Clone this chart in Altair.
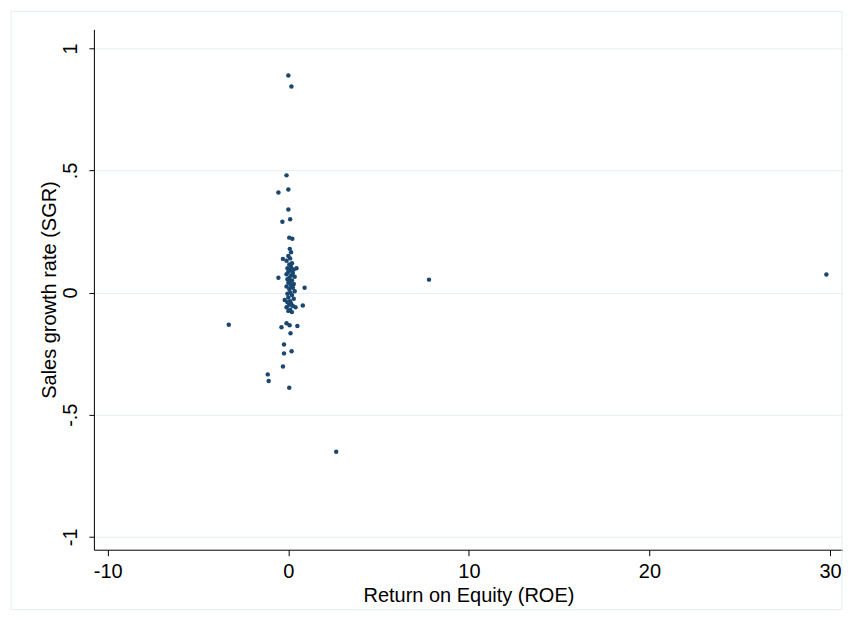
import altair as alt
import pandas as pd

roe = [0.0, 0.17, -0.1, 0.0, -0.55, 0.0, 0.1, -0.33, 0.05, 0.22, 0.08, 0.15, -0.3,
       0.45, -0.55, 0.9, 0.8, 0.4, -3.3, -0.38, -0.1, 0.07, 0.5, 0.12, -0.24, 0.18,
       -0.24, -0.3, -1.14, -1.09, 0.05, 7.79, 29.8, 2.65,
       0.0, 0.1, -0.1, 0.2, 0.05, 0.15, -0.05, 0.3, 0.1, 0.0, 0.25, -0.1, 0.15, 0.35,
       0.05, -0.05, 0.2, 0.1, 0.0, 0.3, 0.15, -0.1, 0.25, 0.05, 0.35, 0.1, -0.05, 0.2,
       0.0, 0.3, -0.2, 0.1, -0.05, 0.15, 0.05, 0.25, -0.1, 0.1, 0.0, 0.2]
sgr = [0.889, 0.844, 0.48, 0.422, 0.41, 0.34, 0.30, 0.29, 0.225, 0.22, 0.179, 0.165, 0.138,
       0.10, 0.061, 0.02, -0.053, -0.06, -0.132, -0.142, -0.126, -0.134, -0.137, -0.167, -0.213, -0.24,
       -0.249, -0.303, -0.335, -0.362, -0.39, 0.053, 0.074, -0.652,
       0.15, 0.14, 0.13, 0.12, 0.115, 0.105, 0.10, 0.095, 0.09, 0.085, 0.08, 0.075, 0.07, 0.065,
       0.06, 0.055, 0.05, 0.045, 0.04, 0.035, 0.03, 0.025, 0.02, 0.015, 0.005, 0.0, -0.005, -0.01,
       -0.02, -0.025, -0.03, -0.035, -0.04, -0.045, -0.05, -0.055, -0.06, -0.07, -0.075, -0.08]

x_ticks = [-10, 0, 10, 20, 30]
y_ticks = [-1, -0.5, 0, 0.5, 1]

df = pd.DataFrame({"ROE": roe, "SGR": sgr})

FONT = "Liberation Sans"
FS = 20

frame = alt.Chart(pd.DataFrame({"a": [0]})).mark_rect(
    fill=None, stroke="#e4ecee", strokeWidth=1
).encode(
    x=alt.value(-83), x2=alt.value(749), y=alt.value(-18), y2=alt.value(581)
)

pts = alt.Chart(df).mark_circle(size=20, opacity=1, color="#1a476f").encode(
    x=alt.X("ROE:Q", title="Return on Equity (ROE)",
            scale=alt.Scale(domain=[-10.77, 30.72], nice=False, zero=False),
            axis=alt.Axis(values=x_ticks, grid=False, labelExpr="toString(datum.value)",
                          domainColor="black", tickColor="black", tickSize=6,
                          labelFontSize=FS, titleFontSize=FS, labelFont=FONT, titleFont=FONT,
                          labelColor="black", titleColor="black", titleFontWeight="normal",
                          labelPadding=6, titlePadding=4)),
    y=alt.Y("SGR:Q", title="Sales growth rate (SGR)",
            scale=alt.Scale(domain=[-1.053, 1.078], nice=False, zero=False),
            axis=alt.Axis(values=y_ticks, grid=True, gridColor="#e6eff1", gridWidth=1,
                          labelExpr="datum.value == 1 ? '1' : datum.value == 0.5 ? '.5' : datum.value == 0 ? '0' : datum.value == -0.5 ? '-.5' : '-1'",
                          labelAngle=270, labelAlign="center", labelBaseline="bottom",
                          domainColor="black", tickColor="black", tickSize=5,
                          labelFontSize=FS, titleFontSize=FS, labelFont=FONT, titleFont=FONT,
                          labelColor="black", titleColor="black", titleFontWeight="normal",
                          labelPadding=8, titlePadding=1)),
)

chart = alt.layer(frame, pts).properties(
    width=750, height=521,
    padding={"left": 2, "top": 2, "right": 0, "bottom": 0},
    background="white",
).configure_view(stroke=None)

chart.save("out.html", embed_options={"renderer": "svg", "actions": False})
